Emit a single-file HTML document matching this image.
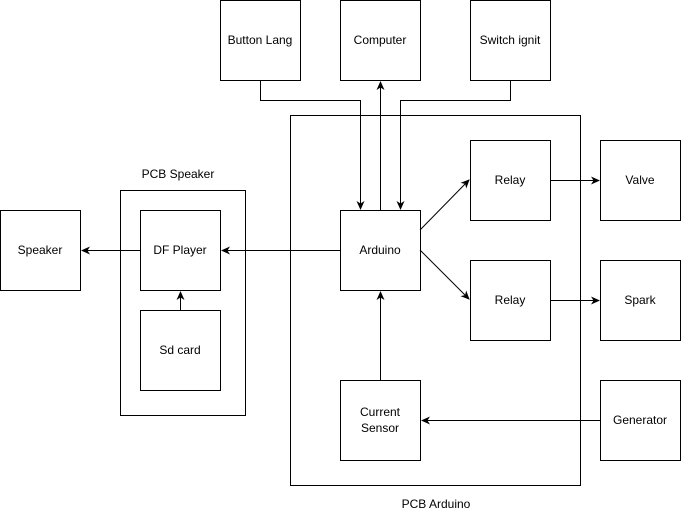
<!DOCTYPE html>
<html><head><meta charset="utf-8"><style>
html,body{margin:0;padding:0;background:#fff;}
svg{display:block;}
text{font-family:"Liberation Sans",Arial,sans-serif;font-size:12px;fill:#000;}
</style></head><body>
<svg width="681" height="531" viewBox="0 0 681 531" xmlns="http://www.w3.org/2000/svg">
<defs>
<marker id="a" markerWidth="10" markerHeight="10" refX="8" refY="5" orient="auto" markerUnits="userSpaceOnUse">
<path d="M0,1 L9,5 L0,9 L2.5,5 Z" fill="#000"/>
</marker>
</defs>
<g fill="none" stroke="#000" stroke-width="1">
<rect x="290.5" y="115.5" width="290" height="370"/>
<rect x="120.5" y="190.5" width="125" height="225"/>
<rect x="220.5" y="0.5" width="80" height="80"/>
<rect x="340.5" y="0.5" width="80" height="80"/>
<rect x="470.5" y="0.5" width="80" height="80"/>
<rect x="0.5" y="210.5" width="80" height="80"/>
<rect x="140.5" y="210.5" width="80" height="80"/>
<rect x="140.5" y="310.5" width="80" height="80"/>
<rect x="340.5" y="210.5" width="80" height="80"/>
<rect x="470.5" y="140.5" width="80" height="80"/>
<rect x="470.5" y="260.5" width="80" height="80"/>
<rect x="600.5" y="140.5" width="80" height="80"/>
<rect x="600.5" y="260.5" width="80" height="80"/>
<rect x="600.5" y="380.5" width="80" height="80"/>
<rect x="340.5" y="380.5" width="80" height="80"/>
<path d="M260.5,80 V100.5 H360.5 V209" marker-end="url(#a)"/>
<path d="M510.5,80 V100.5 H400.5 V209" marker-end="url(#a)"/>
<path d="M380.5,210 V82" marker-end="url(#a)"/>
<path d="M340,250.5 H222" marker-end="url(#a)"/>
<path d="M140,250.5 H82" marker-end="url(#a)"/>
<path d="M180.5,310 V292" marker-end="url(#a)"/>
<path d="M420,230 L469,180" marker-end="url(#a)"/>
<path d="M420,250 L469,299" marker-end="url(#a)"/>
<path d="M550,180.5 H599" marker-end="url(#a)"/>
<path d="M550,300.5 H599" marker-end="url(#a)"/>
<path d="M600,420.5 H422" marker-end="url(#a)"/>
<path d="M380.5,380 V292" marker-end="url(#a)"/>
</g>
<g text-anchor="middle">
<text x="260" y="44">Button Lang</text>
<text x="380" y="44">Computer</text>
<text x="510" y="44">Switch ignit</text>
<text x="40" y="254">Speaker</text>
<text x="180" y="254">DF Player</text>
<text x="180" y="354">Sd card</text>
<text x="380" y="254">Arduino</text>
<text x="510" y="184">Relay</text>
<text x="510" y="304">Relay</text>
<text x="640" y="184">Valve</text>
<text x="640" y="304">Spark</text>
<text x="640" y="424">Generator</text>
<text x="380" y="416">Current</text>
<text x="380" y="432">Sensor</text>
<text x="178" y="178">PCB Speaker</text>
<text x="436" y="508">PCB Arduino</text>
</g>
</svg>
</body></html>
